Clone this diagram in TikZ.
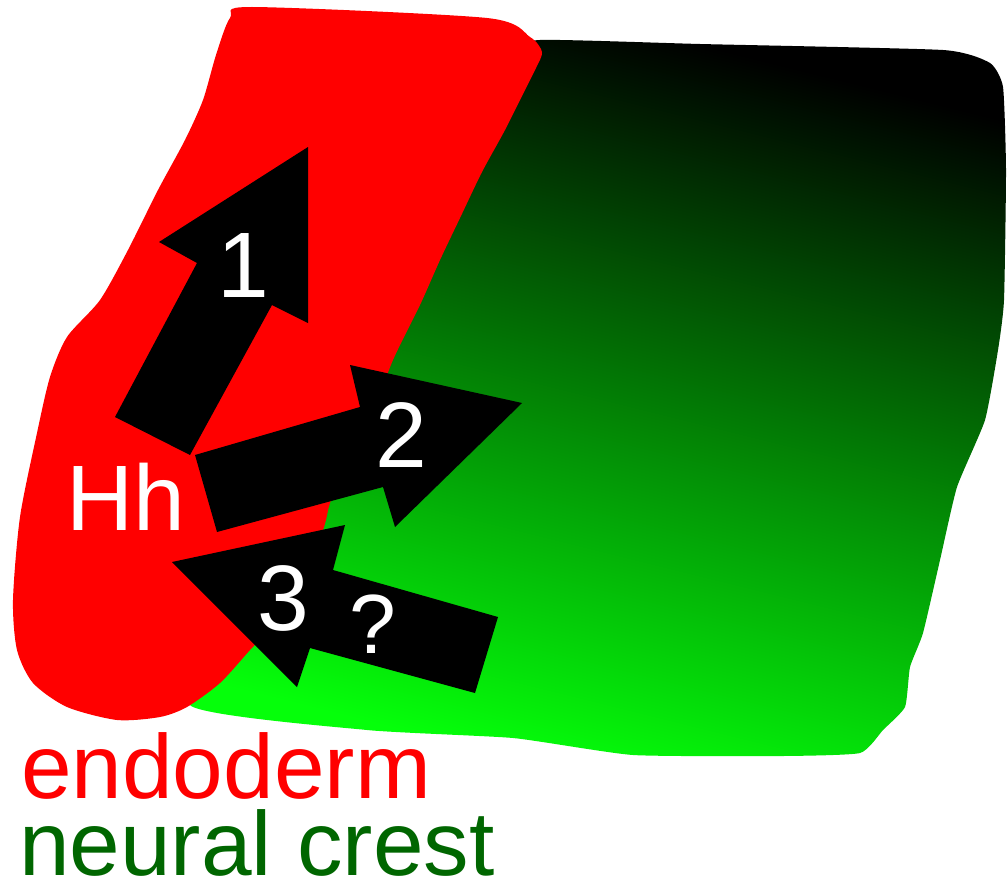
\documentclass[tikz,border=0pt]{standalone}
\usepackage{fontspec}
\setmainfont{Liberation Sans}
\definecolor{endored}{RGB}{255,0,0}
\definecolor{crestdark}{RGB}{0,102,0}
\definecolor{gbright}{RGB}{5,255,10}
\definecolor{gmid}{RGB}{0,112,0}
\begin{document}
\begin{tikzpicture}[x=1pt,y=-1pt,
  blockarrow/.style={fill=black},
  inlbl/.style={font=\fontsize{93}{100}\selectfont, text=white, inner sep=0pt},
  qlbl/.style={font=\fontsize{84}{90}\selectfont, text=white, inner sep=0pt},
  legend/.style={font=\fontsize{91}{100}\selectfont, inner sep=0pt, anchor=base west, text depth=0pt}]
\fill[white] (0,0) rectangle (1008,888);
\useasboundingbox (0,0) rectangle (1008,888);

% neural crest tissue (gradient)
\shade[top color=black, middle color=gmid, bottom color=gbright, shading angle=-14]
  plot[smooth cycle, tension=0.3] coordinates {
  (540,40) (700,44) (943,50) (990,63) (1003,87) (1006,170) (1004,300) (998,350)
  (985,420) (957,487) (940,560) (923,633) (910,667) (905,707) (883,730) (860,753)
  (783,756) (633,755) (513,738) (367,730) (190,705) (260,600) (300,500)
  (360,360) (440,200) (520,55)};

% endoderm tissue
\fill[endored] plot[smooth cycle, tension=0.45] coordinates {
  (252,7) (487,18) (530,37) (542,52) (536,68) (524,92) (505,130) (482,172)
  (460,218) (440,260) (420,305) (393,360) (370,420) (345,470) (330,503)
  (323,530) (295,600) (250,650) (220,683) (187,707) (160,717) (117,720)
  (67,707) (33,683) (17,650) (13,600) (20,517) (37,433) (50,377) (67,337)
  (100,300) (128,250) (158,190) (185,140) (203,100) (216,55) (230,18)};

% block arrows
\fill[blockarrow] (115,417) -- (197,263) -- (159,242) -- (308,147) -- (308,323)
  -- (272,305) -- (190,455) -- cycle;
\fill[blockarrow] (195,455) -- (360,407) -- (350,365) -- (522,403) -- (395,527)
  -- (383,487) -- (217,532) -- cycle;
\fill[blockarrow] (172,562) -- (345,525) -- (333,570) -- (498,617) -- (475,693)
  -- (310,648) -- (297,687) -- cycle;

% labels
\node[inlbl, anchor=base west] (hh) at (66,530) {Hh};
\node[inlbl, anchor=base] (n1) at (243,297) {1};
\node[inlbl, anchor=base] (n2) at (401,467) {2};
\node[inlbl, anchor=base] (n3) at (283,630) {3};
\node[qlbl, anchor=base] (q) at (373,653) {?};
\node[legend, text=endored] (endo) at (21,798) {endoderm};
\node[legend, text=crestdark] (nc) at (19,875) {neural crest};
\end{tikzpicture}
\end{document}
